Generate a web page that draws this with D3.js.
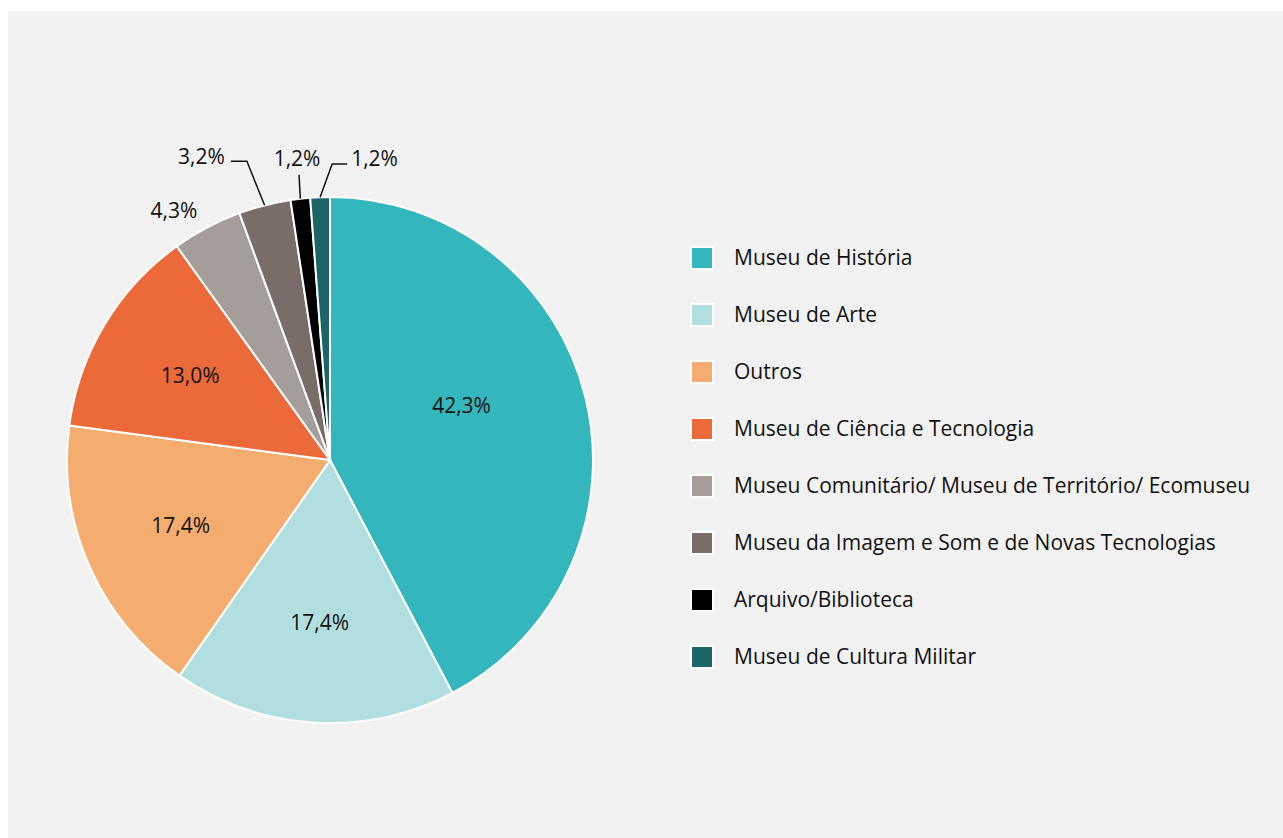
<!DOCTYPE html>
<html>
<head>
<meta charset="utf-8">
<script src="https://cdn.jsdelivr.net/npm/d3@7"></script>
<style>
  body { margin: 0; background: #fff; }
  text { font-family: "Open Sans", "Noto Sans", sans-serif; fill: #111; }
</style>
</head>
<body>
<script>
'use strict';

const width = 1283;
const height = 838;

// data
const categories = [
    "Museu de História",
    "Museu de Arte",
    "Outros",
    "Museu de Ciência e Tecnologia",
    "Museu Comunitário/ Museu de Território/ Ecomuseu",
    "Museu da Imagem e Som e de Novas Tecnologias",
    "Arquivo/Biblioteca",
    "Museu de Cultura Militar"
];
const values = [42.3, 17.4, 17.4, 13.0, 4.3, 3.2, 1.2, 1.2];
const colors = ["#33b6bc", "#b1dedf", "#f5ad6f", "#ec6a3a", "#a59d99", "#786d68", "#000000", "#1b6567"];

const fmt = v => d3.format(".1f")(v).replace(".", ",") + "%";

const svg = d3.select("body")
    .append("svg")
    .attr("width", width)
    .attr("height", height);

svg.append("rect")
    .attr("x", 8)
    .attr("y", 11)
    .attr("width", width - 8)
    .attr("height", height - 11)
    .attr("fill", "#f2f2f2");

const cx = 330, cy = 460, radius = 263;
const fontSize = 21;

let pie = d3.pie().sort(null).value(d => d);
let arcs = pie(values);

let arc = d3.arc().innerRadius(0).outerRadius(radius);
let labelArc = d3.arc().innerRadius(radius * 0.62).outerRadius(radius * 0.62);

let g = svg.append("g").attr("transform", `translate(${cx},${cy})`);

g.selectAll("path")
    .data(arcs)
    .enter()
    .append("path")
    .attr("d", arc)
    .attr("fill", (d, i) => colors[i])
    .attr("stroke", "#fff")
    .attr("stroke-width", 2);

// big slices: label inside (first one sits a bit closer in and higher)
g.selectAll("text.inner")
    .data(arcs.filter(d => d.data >= 10))
    .enter()
    .append("text")
    .attr("class", "inner")
    .attr("transform", (d, i) => {
        let c = labelArc.centroid(d);
        if (i === 0) c = [c[0] * 0.85 - 3, c[1] * 0.85 - 21];
        return `translate(${c})`;
    })
    .attr("text-anchor", "middle")
    .attr("dy", "0.35em")
    .attr("font-size", fontSize)
    .text(d => fmt(d.data));

// small slices: label outside, some with a leader line
// [elbow radius, elbow angle shift (rad), horizontal run, anchor]
const outside = {
    4: null,
    5: [310, -0.02, -16, "end"],
    6: [287, 0.005, 0, "middle"],
    7: [296, 0.045, 15, "start"]
};

const point = (r, a) => [r * Math.sin(a), -r * Math.cos(a)];

arcs.forEach((d, i) => {
    if (!(i in outside)) return;
    let mid = (d.startAngle + d.endAngle) / 2;
    let cfg = outside[i];
    if (cfg === null) {
        let p = point(radius + 28, mid);
        g.append("text")
            .attr("x", p[0] - 20)
            .attr("y", p[1] + 8)
            .attr("text-anchor", "middle")
            .attr("dy", "0.35em")
            .attr("font-size", fontSize)
            .text(fmt(d.data));
        return;
    }
    let p0 = point(radius, mid);
    let p1 = point(cfg[0], mid + cfg[1]);
    let p2 = [p1[0] + cfg[2], p1[1]];
    g.append("path")
        .attr("d", d3.line()([p0, p1, p2]))
        .attr("fill", "none")
        .attr("stroke", "#111")
        .attr("stroke-width", 1.5);
    let tx = p2[0] + (cfg[3] === "end" ? -6 : cfg[3] === "start" ? 4 : -2);
    let ty = cfg[3] === "middle" ? p2[1] - 16 : p2[1] - 5;
    g.append("text")
        .attr("x", tx)
        .attr("y", ty)
        .attr("text-anchor", cfg[3])
        .attr("dy", "0.35em")
        .attr("font-size", fontSize)
        .text(fmt(d.data));
});

// legend
let legendY = d3.scalePoint()
    .domain(categories)
    .range([258, 657]);

let legend = svg.append("g")
    .selectAll("g")
    .data(categories)
    .enter()
    .append("g")
    .attr("transform", d => `translate(691,${legendY(d)})`);

legend.append("rect")
    .attr("x", 0)
    .attr("y", -11)
    .attr("width", 22)
    .attr("height", 22)
    .attr("fill", (d, i) => colors[i])
    .attr("stroke", "#fff")
    .attr("stroke-width", 2);

legend.append("text")
    .attr("x", 43)
    .attr("dy", "0.35em")
    .attr("font-size", fontSize)
    .text(d => d);
</script>
</body>
</html>
